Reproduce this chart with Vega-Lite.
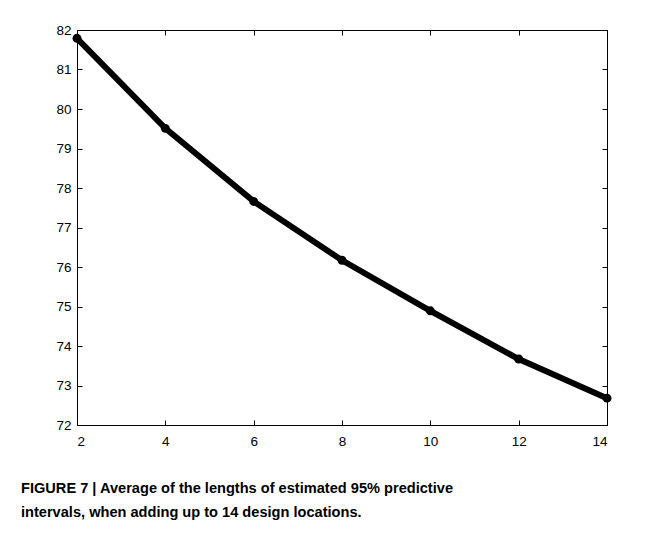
{
  "$schema": "https://vega.github.io/schema/vega-lite/v6.json",
  "autosize": "none",
  "width": 530,
  "height": 395,
  "padding": {"left": 77, "top": 30, "right": 61, "bottom": 109},
  "background": "white",
  "data": {
    "values": [
      {"n": 2, "len": 81.79},
      {"n": 4, "len": 79.51},
      {"n": 6, "len": 77.66},
      {"n": 8, "len": 76.17},
      {"n": 10, "len": 74.89},
      {"n": 12, "len": 73.67},
      {"n": 14, "len": 72.68}
    ]
  },
  "config": {
    "view": {"stroke": "black", "strokeWidth": 1},
    "axis": {
      "grid": false,
      "domain": false,
      "ticks": true,
      "tickColor": "black",
      "tickSize": -5,
      "labelColor": "black",
      "labelFont": "Liberation Sans",
      "labelFontSize": 13.5,
      "title": null
    }
  },
  "title": {
    "text": ["FIGURE 7 | Average of the lengths of estimated 95% predictive", "intervals, when adding up to 14 design locations."],
    "orient": "bottom",
    "anchor": "start",
    "frame": "group",
    "dx": -56,
    "offset": 33,
    "font": "Liberation Sans",
    "fontSize": 14.6,
    "fontWeight": "bold",
    "lineHeight": 24,
    "color": "black"
  },
  "layer": [
    {
      "mark": {"type": "line", "color": "black", "strokeWidth": 6},
      "encoding": {
        "x": {"field": "n", "type": "quantitative", "scale": {"domain": [2, 14], "nice": false, "zero": false},
              "axis": {"values": [2, 4, 6, 8, 10, 12, 14], "labelPadding": 14, "title": null}},
        "y": {"field": "len", "type": "quantitative", "scale": {"domain": [72, 82], "nice": false, "zero": false},
              "axis": {"values": [72, 73, 74, 75, 76, 77, 78, 79, 80, 81, 82], "labelPadding": 11, "title": null}}
      }
    },
    {
      "mark": {"type": "point", "filled": true, "color": "black", "size": 80, "opacity": 1},
      "encoding": {
        "x": {"field": "n", "type": "quantitative", "scale": {"domain": [2, 14], "nice": false, "zero": false},
              "axis": {"orient": "top", "labels": false, "values": [2, 4, 6, 8, 10, 12, 14], "title": null}},
        "y": {"field": "len", "type": "quantitative", "scale": {"domain": [72, 82], "nice": false, "zero": false},
              "axis": {"orient": "right", "labels": false, "values": [72, 73, 74, 75, 76, 77, 78, 79, 80, 81, 82], "title": null}}
      }
    }
  ],
  "resolve": {"axis": {"x": "independent", "y": "independent"}}
}
